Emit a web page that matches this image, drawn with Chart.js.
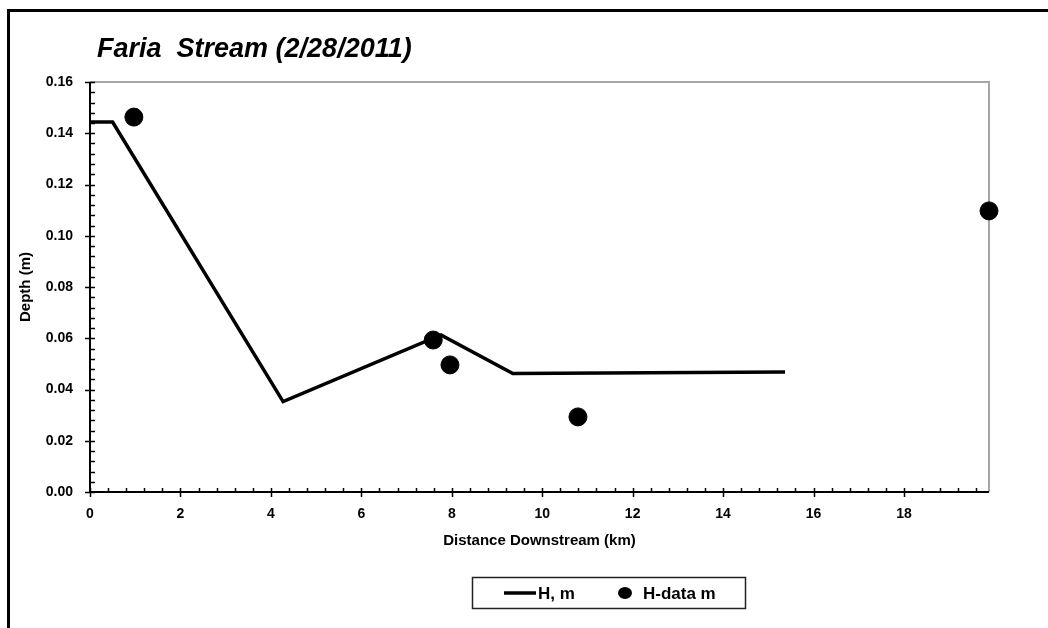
<!DOCTYPE html>
<html lang="en">
<head>
    <meta charset="UTF-8">
    <title>Faria Stream (2/28/2011)</title>
    <script src="https://cdn.jsdelivr.net/npm/chart.js"></script>
    <style>
        body { margin: 0; background: #fff; }
        #wrap { position: relative; width: 1048px; height: 628px; overflow: hidden; }
        #frame { position: absolute; left: 7px; top: 9px; width: 1100px; height: 700px;
                 border-left: 3px solid #000; border-top: 3px solid #000; }
        canvas { position: absolute; left: 0; top: 0; }
    </style>
</head>
<body>
<div id="wrap">
    <div id="frame"></div>
    <canvas id="depthChart" width="1048" height="628"></canvas>
</div>
<script>
    // model line (H, m)
    var lineDist  = [0, 0.5, 4.27, 7.76, 9.35, 15.37];
    var lineDepth = [0.1444, 0.1444, 0.0353, 0.0613, 0.0462, 0.0468];
    // measured points (H-data m)
    var obsDist  = [0.97, 7.59, 7.96, 10.79, 19.88];
    var obsDepth = [0.1463, 0.0593, 0.0496, 0.0293, 0.1097];
    // axis ticks
    var xTicks = [0, 2, 4, 6, 8, 10, 12, 14, 16, 18];
    var yTicks = [0, 0.02, 0.04, 0.06, 0.08, 0.10, 0.12, 0.14, 0.16];
    var xMax = 19.88;

    var FONT = 'Liberation Sans, Arial, sans-serif';

    function pts(xs, ys) {
        return xs.map(function (x, i) { return { x: x, y: ys[i] }; });
    }

    // axis lines, ticks and the legend box, drawn by hand like the excel chart
    var axesPlugin = {
        id: 'axesPlugin',
        afterLayout: function (chart) {
            // nudge the title a bit right of the plot edge
            if (chart.titleBlock) {
                chart.titleBlock.left += 7;
                chart.titleBlock.right += 7;
            }
        },
        beforeDatasetsDraw: function (chart) {
            var c = chart.ctx, a = chart.chartArea;
            var xs = chart.scales.x, ys = chart.scales.y;
            c.save();
            c.strokeStyle = '#a6a6a6';
            c.lineWidth = 2;
            c.beginPath();
            c.moveTo(a.left, a.top); c.lineTo(a.right, a.top); c.lineTo(a.right, a.bottom);
            c.stroke();
            c.strokeStyle = '#000';
            c.lineWidth = 2;
            c.beginPath();
            c.moveTo(a.left, a.top); c.lineTo(a.left, a.bottom); c.lineTo(a.right, a.bottom);
            c.stroke();
            c.lineWidth = 1.5;
            c.beginPath();
            // x ticks
            for (var v = 0; v <= xMax + 1e-9; v += 0.4) {
                var px = Math.round(xs.getPixelForValue(v)) + 0.5;
                var major = Math.abs(v / 2 - Math.round(v / 2)) < 1e-6;
                c.moveTo(px, a.bottom - 4);
                c.lineTo(px, a.bottom + (major ? 5 : 0));
            }
            // y ticks
            for (var k = 0; k <= 40; k++) {
                var py = Math.round(ys.getPixelForValue(k * 0.004)) + 0.5;
                var maj = k % 5 === 0;
                c.moveTo(a.left - (maj ? 5 : 0), py);
                c.lineTo(a.left + 5, py);
            }
            c.stroke();
            c.restore();
        },
        afterDraw: function (chart) {
            var c = chart.ctx;
            var ds = chart.data.datasets;
            c.save();
            c.strokeStyle = '#222';
            c.lineWidth = 1.5;
            c.strokeRect(472.5, 577.5, 273, 31);
            var cy = 593;
            c.strokeStyle = '#000';
            c.lineWidth = 3.5;
            c.beginPath(); c.moveTo(504, cy); c.lineTo(536, cy); c.stroke();
            c.fillStyle = '#000';
            c.beginPath(); c.ellipse(625, cy, 7, 6, 0, 0, Math.PI * 2); c.fill();
            c.font = 'bold 17px ' + FONT;
            c.textBaseline = 'middle';
            c.fillText(ds[0].label, 538, cy + 1);
            c.fillText(ds[1].label, 643, cy + 1);
            c.restore();
        }
    };

    var ctx = document.getElementById('depthChart').getContext('2d');
    var depthChart = new Chart(ctx, {
        type: 'scatter',
        data: {
            datasets: [{
                label: 'H, m',
                data: pts(lineDist, lineDepth),
                showLine: true,
                borderColor: '#000',
                borderWidth: 3.5,
                pointRadius: 0,
                pointHoverRadius: 0,
                tension: 0
            }, {
                label: 'H-data m',
                data: pts(obsDist, obsDepth),
                showLine: false,
                backgroundColor: '#000',
                borderColor: '#000',
                pointRadius: 9,
                clip: false
            }]
        },
        options: {
            responsive: false,
            animation: false,
            layout: { padding: { left: 13, top: 33, right: 59, bottom: 74 } },
            plugins: {
                legend: { display: false },
                tooltip: { enabled: false },
                title: {
                    display: true,
                    text: 'Faria  Stream (2/28/2011)',
                    align: 'start',
                    fullSize: false,
                    color: '#000',
                    font: { family: FONT, size: 27, weight: 'bold', style: 'italic' },
                    padding: { top: 0, bottom: 16.6 }
                }
            },
            scales: {
                x: {
                    type: 'linear',
                    min: 0,
                    max: xMax,
                    afterBuildTicks: function (s) { s.ticks = xTicks.map(function (v) { return { value: v }; }); },
                    afterFit: function (s) { s.height = 62; },
                    grid: { display: false, drawTicks: false },
                    border: { display: false },
                    ticks: {
                        padding: 14,
                        color: '#000',
                        maxRotation: 0,
                        font: { family: FONT, size: 14, weight: 'bold' }
                    },
                    title: {
                        display: true,
                        text: 'Distance Downstream (km)',
                        color: '#000',
                        font: { family: FONT, size: 15, weight: 'bold' },
                        padding: { top: 4, bottom: 4 }
                    }
                },
                y: {
                    type: 'linear',
                    min: 0,
                    max: 0.16,
                    afterBuildTicks: function (s) { s.ticks = yTicks.map(function (v) { return { value: v }; }); },
                    afterFit: function (s) { s.width = 77; },
                    grid: { display: false, drawTicks: false },
                    border: { display: false },
                    ticks: {
                        padding: 17,
                        color: '#000',
                        font: { family: FONT, size: 14, weight: 'bold' },
                        callback: function (v) { return Number(v).toFixed(2); }
                    },
                    title: {
                        display: true,
                        text: 'Depth (m)',
                        color: '#000',
                        font: { family: FONT, size: 15, weight: 'bold' },
                        padding: { top: 4, bottom: 4 }
                    }
                }
            }
        },
        plugins: [axesPlugin]
    });
</script>
</body>
</html>
